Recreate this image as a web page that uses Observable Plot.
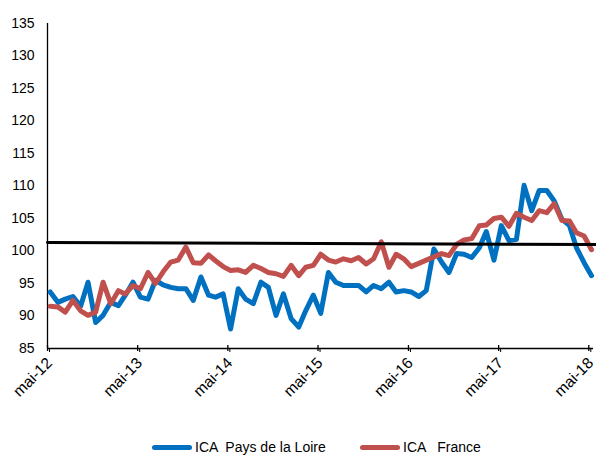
<!DOCTYPE html>
<html>
<head>
<meta charset="utf-8">
<script src="https://cdn.jsdelivr.net/npm/d3@7"></script>
<script src="https://cdn.jsdelivr.net/npm/@observablehq/plot@0.6"></script>
<style>
  html, body { margin: 0; padding: 0; background: #fff; }
  body { width: 596px; height: 455px; overflow: hidden; font-family: "Liberation Sans", Arial, sans-serif; }
  #legend { position: relative; height: 55px; font-size: 14px; color: #000; }
  .item { position: absolute; top: 39px; display: flex; align-items: center; white-space: pre; }
  .sw { width: 40px; height: 5px; border-radius: 3px; margin-right: 3px; }
</style>
</head>
<body>
<div id="chart"></div>
<div id="legend"></div>
<script>
// Series names
const seriesNames = ["ICA  Pays de la Loire", "ICA   France"];
const seriesColors = ["#0070C0", "#C0504D"];

// Monthly points from mai-12 to mai-18
const startMonth = "2012-05-01";
const blueValues = [
  93.7, 92.1, 92.6, 93.0, 91.5, 95.2, 89.0, 90.1, 92.1, 91.6, 93.2, 95.2,
  92.9, 92.6, 95.5, 94.8, 94.4, 94.2, 94.2, 92.4, 96.0, 93.2, 92.9, 93.4,
  88.0, 94.2, 92.6, 91.9, 95.2, 94.4, 90.1, 93.4, 89.6, 88.3, 90.8, 93.2,
  90.4, 96.7, 95.2, 94.7, 94.7, 94.7, 93.7, 94.7, 94.2, 95.2, 93.7, 93.9,
  93.7, 93.0, 93.9, 100.3, 98.3, 96.7, 99.6, 99.5, 99.0, 100.5, 103.0, 98.6,
  103.9, 101.6, 101.8, 110.1, 106.2, 109.3, 109.3, 107.7, 104.9, 103.9, 100.5, 98.2,
  96.2
];
const redValues = [
  91.5, 91.4, 90.6, 92.4, 90.8, 90.1, 90.6, 95.2, 91.9, 93.9, 93.4, 94.7,
  94.2, 96.7, 95.0, 96.8, 98.3, 98.6, 100.6, 98.2, 98.1, 99.4, 98.5, 97.6,
  97.0, 97.1, 96.7, 97.8, 97.3, 96.7, 96.5, 96.1, 97.8, 96.2, 97.5, 97.8,
  99.5, 98.6, 98.3, 98.8, 98.5, 99.0, 98.0, 98.8, 101.4, 97.5, 99.5, 98.8,
  97.6, 98.1, 98.6, 99.1, 99.6, 99.3, 101.0, 101.7, 101.9, 103.9, 104.0, 105.0,
  105.2, 103.8, 105.8, 105.2, 104.7, 106.2, 105.9, 107.3, 104.7, 104.6, 102.8, 102.3,
  100.2
];
// Long-run average line (two ends)
const avgDates = ["2012-05-01", "2018-05-31"];
const avgValues = [101.3, 101.0];

// Axis ticks
const yTicks = [85, 90, 95, 100, 105, 110, 115, 120, 125, 130, 135];
const xTickDates = ["2012-05-01", "2013-05-01", "2014-05-01", "2015-05-01", "2016-05-01", "2017-05-01", "2018-05-01"];
const xTickLabels = ["mai-12", "mai-13", "mai-14", "mai-15", "mai-16", "mai-17", "mai-18"];

// monthly observations are plotted a little after the first of the month
const start = new Date(startMonth);
const data = [];
blueValues.forEach((v, i) => {
  const d = d3.utcDay.offset(d3.utcMonth.offset(start, i), 11);
  data.push({date: d, value: v, series: seriesNames[0]});
  data.push({date: d, value: redValues[i], series: seriesNames[1]});
});
const avgData = avgDates.map((d, i) => ({date: new Date(d), value: avgValues[i]}));
const tickDates = xTickDates.map(d => new Date(d));
const labelOf = new Map(tickDates.map((d, i) => [+d, xTickLabels[i]]));

const xDomain = [new Date("2012-05-01"), new Date("2018-05-20")];
const yDomain = [85, 135];

const chart = Plot.plot({
  width: 596,
  height: 400,
  marginLeft: 47,
  marginRight: 3,
  marginTop: 23,
  marginBottom: 52,
  style: {fontFamily: "'Liberation Sans', Arial, sans-serif", fontSize: "14px", color: "#000", background: "#fff"},
  x: {type: "utc", domain: xDomain},
  y: {type: "linear", domain: yDomain},
  color: {domain: seriesNames, range: seriesColors},
  marks: [
    Plot.axisY({ticks: yTicks, tickSize: 0, tickPadding: 13, label: null, fontSize: 14}),
    Plot.axisX({ticks: tickDates, tickFormat: d => labelOf.get(+d), tickRotate: -45, tickSize: 4, tickPadding: 8, dx: 2, label: null, fontSize: 15.5}),
    Plot.ruleX(tickDates, {x: d => d, y1: yDomain[0], y2: yDomain[0], insetTop: -3, insetBottom: -3, stroke: "#000", strokeWidth: 1.3}),
    Plot.ruleY([yDomain[0]], {stroke: "#000", strokeWidth: 1.5}),
    Plot.ruleX([xDomain[0]], {y1: yDomain[0], y2: yDomain[1], stroke: "#000", strokeWidth: 1.3}),
    Plot.line(data, {x: "date", y: "value", z: "series", stroke: "series", strokeWidth: 5, strokeLinejoin: "round", strokeLinecap: "round"}),
    Plot.line(avgData, {x: "date", y: "value", stroke: "#000", strokeWidth: 3, clip: false})
  ]
});
document.getElementById("chart").appendChild(chart);

const legend = document.getElementById("legend");
const legendLeft = [152, 360];
seriesNames.forEach((name, i) => {
  const item = document.createElement("div");
  item.className = "item";
  item.style.left = legendLeft[i] + "px";
  const sw = document.createElement("div");
  sw.className = "sw";
  sw.style.background = seriesColors[i];
  const t = document.createElement("span");
  t.textContent = name;
  item.appendChild(sw);
  item.appendChild(t);
  legend.appendChild(item);
});
</script>
</body>
</html>
